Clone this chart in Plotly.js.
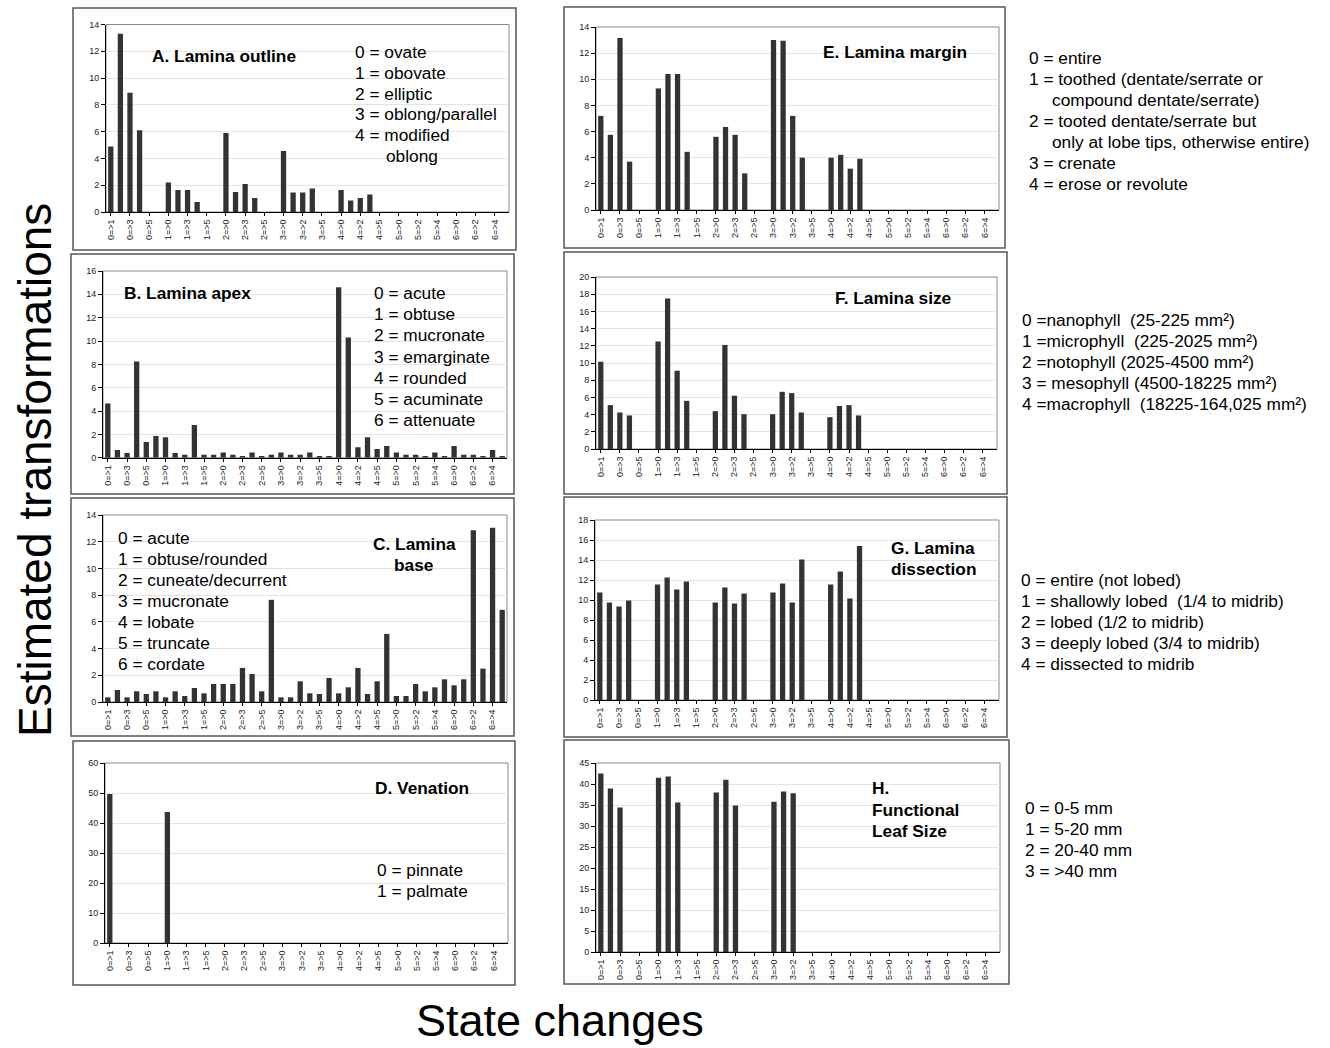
<!DOCTYPE html>
<html>
<head>
<meta charset="utf-8">
<script src="https://cdn.plot.ly/plotly-3.0.1.min.js"></script>
<style>
  html, body { margin: 0; padding: 0; background: #fff; }
  #chart { width: 1330px; height: 1048px; }
</style>
</head>
<body>
<div id="chart"></div>
<script>
// ---------------- DATA ----------------
const categories = [
  '0=>1','0=>2','0=>3','0=>4','0=>5','0=>6',
  '1=>0','1=>2','1=>3','1=>4','1=>5','1=>6',
  '2=>0','2=>1','2=>3','2=>4','2=>5','2=>6',
  '3=>0','3=>1','3=>2','3=>4','3=>5','3=>6',
  '4=>0','4=>1','4=>2','4=>3','4=>5','4=>6',
  '5=>0','5=>1','5=>2','5=>3','5=>4','5=>6',
  '6=>0','6=>1','6=>2','6=>3','6=>4','6=>5'
];
const labeledTicks = ['0=>1','0=>3','0=>5','1=>0','1=>3','1=>5','2=>0','2=>3','2=>5',
  '3=>0','3=>2','3=>5','4=>0','4=>2','4=>5','5=>0','5=>2','5=>4','6=>0','6=>2','6=>4'];

const laminaOutline = [4.9,13.3,8.9,6.1,0,0, 2.2,1.65,1.65,0.75,0,0, 5.9,1.5,2.1,1.05,0,0,
  4.55,1.45,1.45,1.75,0,0, 1.65,0.85,1.05,1.3,0,0, 0,0,0,0,0,0, 0,0,0,0,0,0];
const laminaApex = [4.65,0.65,0.4,8.25,1.35,1.85, 1.75,0.4,0.25,2.8,0.25,0.25, 0.45,0.25,0.15,0.45,0.15,0.25,
  0.45,0.25,0.25,0.45,0.15,0.15, 14.6,10.3,0.9,1.75,0.75,1.0, 0.45,0.25,0.25,0.15,0.45,0.15,
  1.0,0.25,0.25,0.15,0.65,0.15];
const laminaBase = [0.35,0.9,0.35,0.8,0.6,0.8, 0.35,0.8,0.45,1.05,0.65,1.35, 1.35,1.35,2.55,2.1,0.8,7.65,
  0.35,0.35,1.55,0.65,0.6,1.8, 0.65,1.1,2.55,0.6,1.55,5.1, 0.45,0.45,1.35,0.8,1.1,1.7,
  1.25,1.7,12.85,2.5,13.05,6.9];
const venation = [49.7,0,0,0,0,0, 43.7,0,0,0,0,0, 0,0,0,0,0,0, 0,0,0,0,0,0, 0,0,0,0,0,0, 0,0,0,0,0,0, 0,0,0,0,0,0];
const laminaMargin = [7.2,5.75,13.15,3.7,0,0, 9.3,10.4,10.4,4.45,0,0, 5.6,6.35,5.75,2.8,0,0,
  13.0,12.95,7.2,4.0,0,0, 4.0,4.22,3.16,3.92,0,0, 0,0,0,0,0,0, 0,0,0,0,0,0];
const laminaSize = [10.15,5.1,4.25,3.9,0,0, 12.5,17.5,9.1,5.6,0,0, 4.4,12.1,6.2,4.05,0,0,
  4.05,6.65,6.5,4.25,0,0, 3.7,5.0,5.1,3.9,0,0, 0,0,0,0,0,0, 0,0,0,0,0,0];
const laminaDissection = [10.75,9.75,9.35,9.95,0,0, 11.55,12.25,11.05,11.85,0,0, 9.75,11.25,9.65,10.65,0,0,
  10.75,11.65,9.75,14.05,0,0, 11.55,12.85,10.15,15.4,0,0, 0,0,0,0,0,0, 0,0,0,0,0,0];
const functionalLeafSize = [42.5,38.9,34.4,0,0,0, 41.5,41.8,35.6,0,0,0, 38.0,41.0,34.9,0,0,0,
  35.8,38.2,37.8,0,0,0, 0,0,0,0,0,0, 0,0,0,0,0,0, 0,0,0,0,0,0];

const titleA = ['A. Lamina outline'];
const titleB = ['B. Lamina apex'];
const titleC = ['C. Lamina', 'base'];
const titleD = ['D. Venation'];
const titleE = ['E. Lamina margin'];
const titleF = ['F. Lamina size'];
const titleG = ['G. Lamina', 'dissection'];
const titleH = ['H.', 'Functional', 'Leaf Size'];

const keyA = ['0 = ovate','1 = obovate','2 = elliptic','3 = oblong/parallel','4 = modified','oblong'];
const keyB = ['0 = acute','1 = obtuse','2 = mucronate','3 = emarginate','4 = rounded','5 = acuminate','6 = attenuate'];
const keyC = ['0 = acute','1 = obtuse/rounded','2 = cuneate/decurrent','3 = mucronate','4 = lobate','5 = truncate','6 = cordate'];
const keyD = ['0 = pinnate','1 = palmate'];
const keyE = ['0 = entire','1 = toothed (dentate/serrate or','compound dentate/serrate)','2 = tooted dentate/serrate but',
  'only at lobe tips, otherwise entire)','3 = crenate','4 = erose or revolute'];
const keyF = ['0 =nanophyll  (25-225 mm\u00B2)','1 =microphyll  (225-2025 mm\u00B2)',
  '2 =notophyll (2025-4500 mm\u00B2)','3 = mesophyll (4500-18225 mm\u00B2)',
  '4 =macrophyll  (18225-164,025 mm\u00B2)'];
const keyG = ['0 = entire (not lobed)','1 = shallowly lobed  (1/4 to midrib)','2 = lobed (1/2 to midrib)',
  '3 = deeply lobed (3/4 to midrib)','4 = dissected to midrib'];
const keyH = ['0 = 0-5 mm','1 = 5-20 mm','2 = 20-40 mm','3 = >40 mm'];

const yLabel = 'Estimated transformations';
const xLabel = 'State changes';

// ---------------- LAYOUT ----------------
const W = 1330, H = 1048;
const fx = p => p / W;
const fy = p => 1 - p / H;
const FONT = 'Liberation Sans, Arial, Helvetica, sans-serif';
const KEYSIZE = 17.3;

const panels = [
  {vals: laminaOutline, xd:[106,509], yd:[24.5,212], range:[0,14], dtick:2, frame:[73,8,516,250],
   title:titleA, tPos:[150,56], tStep:21, tAlign:'left',
   key:keyA, kPos:[353,52], kStep:20.8, indent:31},
  {vals: laminaApex, xd:[103,507], yd:[271,457.7], range:[0,16], dtick:2, frame:[71,254,514,494],
   title:titleB, tPos:[122,293], tStep:21, tAlign:'left',
   key:keyB, kPos:[372,293], kStep:21.2, indent:0},
  {vals: laminaBase, xd:[103,507], yd:[515,702], range:[0,14], dtick:2, frame:[71,498,514,736],
   title:titleC, tPos:[414,544], tStep:21, tAlign:'center',
   key:keyC, kPos:[116,538], kStep:21, indent:0},
  {vals: venation, xd:[105,508], yd:[763,943], range:[0,60], dtick:10, frame:[73,741,515,985],
   title:titleD, tPos:[373,788], tStep:21, tAlign:'left',
   key:keyD, kPos:[375,870], kStep:21, indent:0},
  {vals: laminaMargin, xd:[596,999], yd:[27,210], range:[0,14], dtick:2, frame:[564,7,1005,248],
   title:titleE, tPos:[821,52], tStep:21, tAlign:'left',
   key:keyE, kPos:[1027,58], kStep:21, indent:23},
  {vals: laminaSize, xd:[596,997], yd:[277,449], range:[0,20], dtick:2, frame:[564,252,1007,494],
   title:titleF, tPos:[833,298], tStep:21, tAlign:'left',
   key:keyF, kPos:[1020,320], kStep:21, indent:0},
  {vals: laminaDissection, xd:[595,999], yd:[520,700], range:[0,18], dtick:2, frame:[564,497,1007,737],
   title:titleG, tPos:[889,548], tStep:20.5, tAlign:'left',
   key:keyG, kPos:[1019,580], kStep:21, indent:0},
  {vals: functionalLeafSize, xd:[596,1000], yd:[763,952], range:[0,45], dtick:5, frame:[564,740,1009,984],
   title:titleH, tPos:[870,788], tStep:21.5, tAlign:'left',
   key:keyH, kPos:[1023,808], kStep:21, indent:0}
];

const data = [];
const layout = {
  width: W, height: H,
  margin: {l:0, r:0, t:0, b:0},
  paper_bgcolor: '#fff', plot_bgcolor: '#fff',
  showlegend: false,
  bargap: 0.45,
  font: {family: FONT, color: '#000'},
  shapes: [], annotations: []
};

panels.forEach((p, i) => {
  const n = i === 0 ? '' : String(i + 1);
  const xa = 'xaxis' + n, ya = 'yaxis' + n;
  data.push({
    type: 'bar', x: categories, y: p.vals,
    xaxis: 'x' + n, yaxis: 'y' + n,
    marker: {color: '#333333', line: {width: 0}},
    hoverinfo: 'x+y'
  });
  layout[xa] = {
    domain: [fx(p.xd[0]), fx(p.xd[1])],
    anchor: 'y' + n,
    type: 'category',
    categoryorder: 'array', categoryarray: categories,
    range: [-0.5, categories.length - 0.5],
    tickmode: 'array', tickvals: labeledTicks, ticktext: labeledTicks,
    tickangle: -90,
    ticks: 'outside', ticklen: 3, tickcolor: '#000', tickwidth: 1,
    tickfont: {size: 9, color: '#222', family: FONT},
    showline: true, linecolor: '#000', linewidth: 1,
    showgrid: false, zeroline: false, fixedrange: true
  };
  layout[ya] = {
    domain: [fy(p.yd[1]), fy(p.yd[0])],
    anchor: 'x' + n,
    range: p.range, dtick: p.dtick, tick0: 0,
    ticks: 'outside', ticklen: 4, tickcolor: '#000', tickwidth: 1,
    tickfont: {size: 9, color: '#222', family: FONT},
    showline: true, linecolor: '#000', linewidth: 1,
    showgrid: true, gridcolor: '#e4e4e4', gridwidth: 1,
    zeroline: false, fixedrange: true
  };
  layout.shapes.push({
    type: 'rect', xref: 'x' + n + ' domain', yref: 'y' + n + ' domain',
    x0: 0, x1: 1, y0: 0, y1: 1, layer: 'below',
    line: {color: '#8a8a8a', width: 1}
  });
  layout.shapes.push({
    type: 'rect', xref: 'paper', yref: 'paper',
    x0: fx(p.frame[0]), x1: fx(p.frame[2]), y0: fy(p.frame[3]), y1: fy(p.frame[1]),
    line: {color: '#555', width: 1.5}
  });
  p.title.forEach((t, k) => {
    layout.annotations.push({
      xref: 'paper', yref: 'paper',
      x: fx(p.tPos[0]), y: fy(p.tPos[1] + k * p.tStep),
      xanchor: p.tAlign, yanchor: 'middle', showarrow: false,
      text: '<b>' + t + '</b>', font: {size: KEYSIZE, family: FONT, color: '#000'}
    });
  });
  p.key.forEach((t, k) => {
    const cont = !/^\d/.test(t);
    layout.annotations.push({
      xref: 'paper', yref: 'paper',
      x: fx(p.kPos[0] + (cont ? p.indent : 0)), y: fy(p.kPos[1] + k * p.kStep),
      xanchor: 'left', yanchor: 'middle', showarrow: false,
      text: t, font: {size: KEYSIZE, family: FONT, color: '#000'}
    });
  });
});

layout.annotations.push({
  xref: 'paper', yref: 'paper', x: fx(35), y: fy(470),
  xanchor: 'center', yanchor: 'middle', showarrow: false, textangle: -90,
  text: yLabel, font: {size: 46, family: FONT, color: '#000'}
});
layout.annotations.push({
  xref: 'paper', yref: 'paper', x: fx(560), y: fy(1020),
  xanchor: 'center', yanchor: 'middle', showarrow: false,
  text: xLabel, font: {size: 45, family: FONT, color: '#000'}
});

Plotly.newPlot('chart', data, layout, {staticPlot: true, displayModeBar: false});
</script>
</body>
</html>
